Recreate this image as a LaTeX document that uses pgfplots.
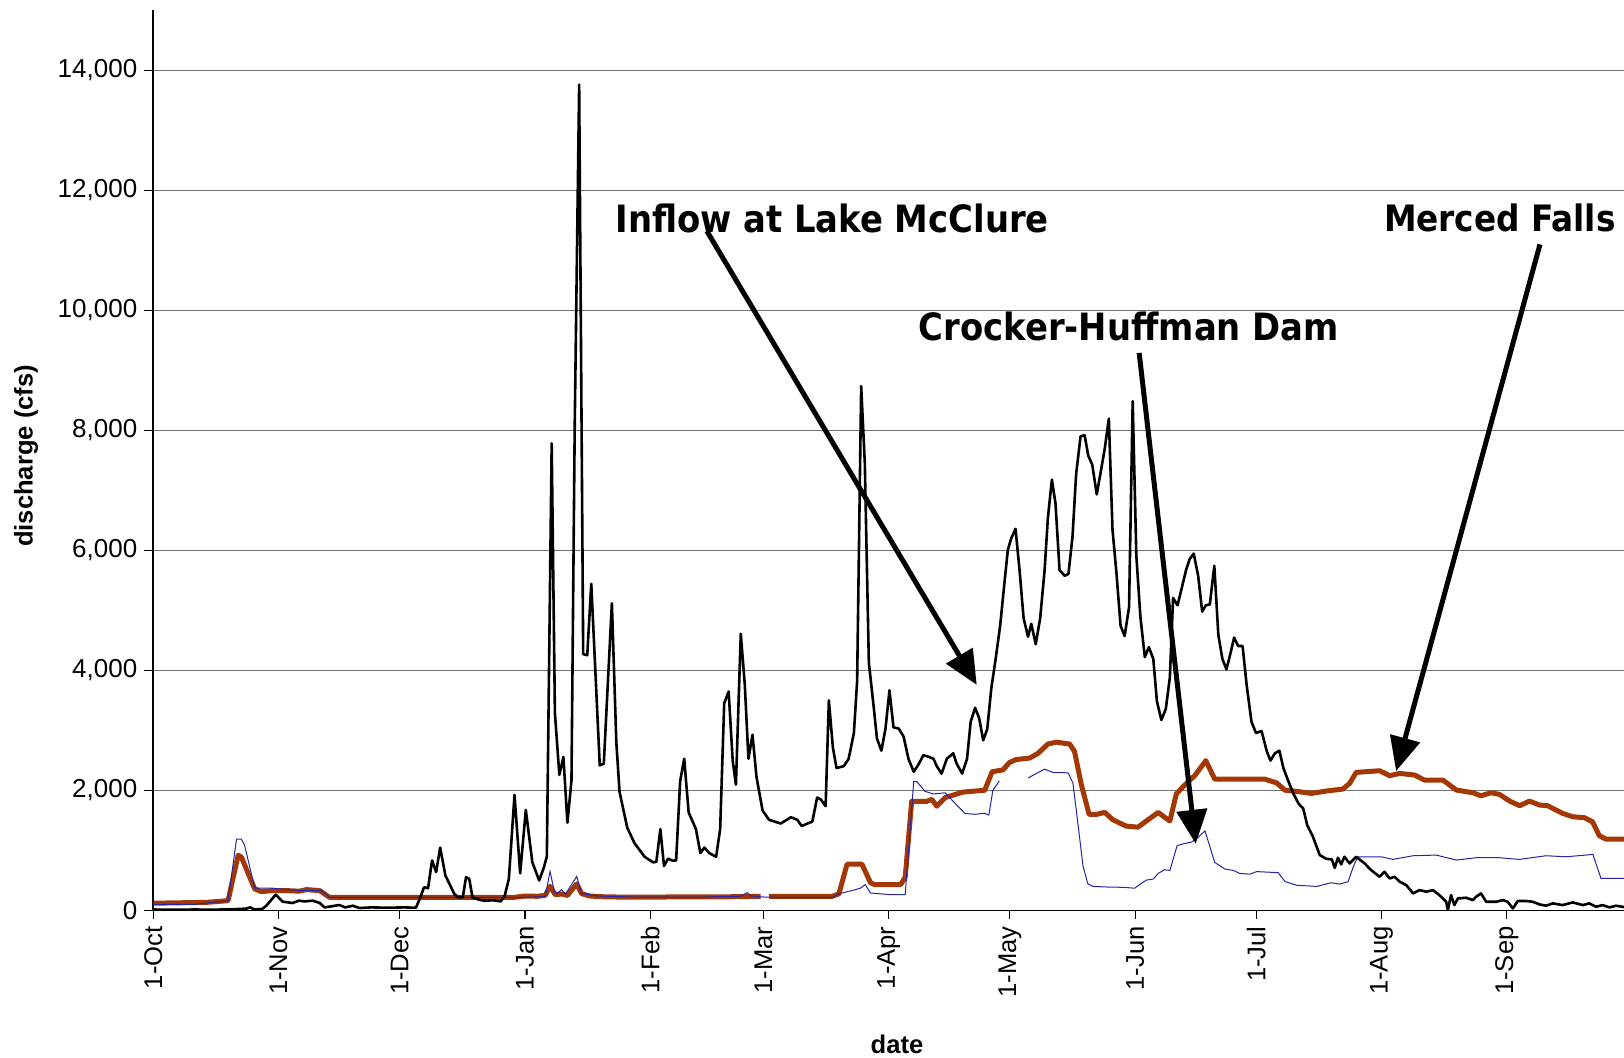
\documentclass[border=0pt]{standalone}
\usepackage{fontspec}
\setmainfont{Liberation Sans}
\newfontfamily\annfont{DejaVu Sans Condensed}
\usepackage{pgfplots}
\pgfplotsset{compat=1.18}
\usetikzlibrary{arrows.meta}
\definecolor{mfbrown}{RGB}{163,56,4}
\definecolor{chblue}{RGB}{36,36,168}
\begin{document}
\begin{tikzpicture}
\begin{axis}[
  scale only axis, width=735.35pt, height=450pt,
  xmin=0, xmax=364, ymin=0, ymax=15000,
  axis x line*=bottom, axis y line*=left,
  axis line style={black, line width=0.8pt},
  unbounded coords=jump,
  xtick={0,31,61,92,123,151,182,212,243,273,304,335},
  xticklabels={1-Oct,1-Nov,1-Dec,1-Jan,1-Feb,1-Mar,1-Apr,1-May,1-Jun,1-Jul,1-Aug,1-Sep},
  ytick={0,2000,4000,6000,8000,10000,12000,14000},
  scaled y ticks=false,
  yticklabel style={/pgf/number format/fixed, /pgf/number format/1000 sep={,}, /pgf/number format/assume math mode=true},
  tick align=outside,
  major tick length=4.5pt,
  tick style={black, line width=0.6pt},
  ymajorgrids, grid style={gray!90!black, line width=0.6pt},
  x tick label style={rotate=90, anchor=east, font=\fontsize{12.8}{14}\selectfont},
  y tick label style={font=\fontsize{13}{14}\selectfont},
  xlabel={\bfseries date},
  ylabel={\bfseries discharge (cfs)},
  xlabel style={at={(axis description cs:0.5057,-0.1484)}, anchor=center, font=\fontsize{12.8}{14}\selectfont},
  ylabel style={at={(axis description cs:-0.0866,0.505)}, anchor=center, font=\fontsize{12.8}{14}\selectfont},
]
% Merced Falls (brown)
\addplot[mfbrown, line width=2.5pt, line join=round] coordinates {
(0,120) (13.2,134) (18.5,162) (21,918) (21.8,890) (23,694) (25.1,358) (26.7,314) (29.6,330) (33,330) (36.2,320) (37.9,347) (41.2,330) (43.6,218) (60,218) (80,218) (89,215) (92,240) (95,235) (97,250) (98.2,403) (99.5,260) (101,274) (102.5,250) (104.8,442) (106,280) (108,240) (112,225) (120,220) (130,225) (140,225) (150.3,234) (151,nan) (152.4,234) (168,234) (169.7,277) (171.7,770) (175.4,770) (177.5,462) (178.5,431) (185,431) (186.1,555) (187.7,1818) (191.4,1818) (192.7,1849) (193.9,1738) (196,1880) (198,1923) (200.4,1972) (205.8,2003) (207.6,2311) (210.3,2342) (211.9,2465) (213.6,2515) (216.9,2539) (219,2619) (221.4,2773) (223.5,2804) (226.8,2773) (228,2650) (229.7,2095) (231.6,1602) (233.5,1602) (235.5,1633) (237.5,1510) (240.8,1405) (243.7,1387) (245.8,1491) (248.7,1633) (250.3,1553) (251.6,1491) (253.2,1941) (254.9,2065) (257.8,2249) (260.5,2496) (262.7,2188) (265.6,2188) (275.1,2188) (278,2126) (280.1,2003) (283,1984) (286.6,1950) (290.3,1989) (294.4,2022) (296.1,2117) (297.7,2300) (303.5,2328) (306,2245) (308.5,2283) (312.2,2256) (314.6,2172) (319.2,2172) (322.5,2006) (326.6,1961) (328.6,1911) (331.1,1961) (333.2,1933) (335.7,1822) (338.2,1745) (340.6,1822) (343.1,1756) (345.1,1745) (348.8,1617) (351.3,1561) (354.2,1545) (356.2,1478) (357.9,1245) (359.5,1189) (364,1189)
};
% Crocker-Huffman Dam (blue)
\addplot[chblue, line width=0.5pt] coordinates {
(0,100) (10,100) (18.5,162) (20.6,1187) (21.8,1187) (22.6,1086) (25.1,370) (29.6,370) (33,347) (37,330) (41.6,330) (43.6,218) (60,218) (80,218) (90,215) (97,230) (98.2,650) (99.3,300) (100,280) (101,347) (102,270) (104.8,566) (106,280) (110,240) (120,220) (135,220) (140,230) (145,230) (147,296) (148,240) (150.4,225) (152.4,220) (160,216) (168,216) (169.7,277) (173.4,339) (175,370) (176.2,431) (177.5,290) (182,265) (186.1,265) (188.2,2145) (189,2145) (191,1984) (193.1,1941) (196,1960) (198.4,1787) (200.9,1615) (203.5,1602) (205.7,1620) (206.8,1590) (207.8,2003) (209.4,2157) (212,nan) (216.5,2206) (218.5,2280) (220.6,2354) (222.7,2299) (226.4,2293) (227.6,2126) (228.9,1417) (230.1,740) (231.3,444) (232.6,400) (236.7,388) (240,385) (242.9,370) (244.1,431) (245.8,505) (247.5,524) (248.7,616) (250.3,678) (251.6,666) (253.4,1079) (254.9,1109) (257,1140) (258.6,1220) (260.3,1325) (262.7,801) (265.2,690) (267.3,666) (268.9,616) (271.4,604) (273.1,647) (278.4,629) (280.1,481) (283,419) (288,400) (291.5,461) (293.6,439) (295.7,478) (297,728) (298.1,894) (303.9,894) (306.8,850) (311.8,911) (317.5,922) (322.5,839) (327.4,878) (333.2,878) (338.1,850) (344.7,911) (349.7,894) (356.3,933) (358.3,533) (364,533)
};
% Inflow at Lake McClure (black)
\addplot[black, line width=1.3pt, line join=round] coordinates {
(0,15) (5,10) (10,15) (15,12) (20,20) (23,30) (24,50) (25,15) (27,25) (28,80) (30.3,263) (32,146) (34.5,123) (36,162) (37.5,150) (39.5,162) (41.2,123) (42.4,50) (44,67) (46,90) (47.5,50) (49.4,78) (51,40) (54,50) (58,45) (62,50) (65,45) (66,200) (67,386) (68,370) (69,834) (70,638) (71,1047) (72.3,582) (74.5,274) (75.5,220) (76.6,218) (77.4,554) (78.2,526) (79,218) (80.5,180) (82,160) (84,170) (86,150) (87,250) (88,526) (89.4,1926) (90.8,618) (92.2,1674) (93.8,806) (95.5,498) (96.7,722) (97.4,900) (98.6,7785) (99.4,3288) (100.5,2258) (101.5,2557) (102.5,1461) (103.5,2164) (104.3,8066) (105.4,13762) (106.4,4272) (107.4,4253) (108.4,5443) (110.5,2417) (111.5,2445) (113.5,5120) (114.6,2800) (115.4,1975) (117.3,1380) (119.1,1120) (121.6,894) (123.7,801) (124.5,810) (125.5,1356) (126.4,740) (127.4,863) (128.5,830) (129.4,832) (130.4,2157) (131.4,2527) (132.5,1633) (134.3,1356) (135.4,955) (136.4,1048) (137.6,955) (139.3,894) (140.3,1356) (141.3,3451) (142.4,3648) (143.4,2496) (144.2,2095) (145.4,4610) (146.4,3759) (147.3,2527) (148.3,2927) (149.3,2219) (150.8,1664) (152.4,1510) (155.3,1448) (157.8,1553) (159.4,1510) (160.5,1405) (161.9,1448) (163.1,1479) (164.3,1880) (165.2,1850) (166.4,1738) (167.2,3501) (168.2,2712) (169.1,2373) (170.9,2404) (172.1,2527) (173.4,2958) (174.2,3821) (175.2,8739) (176.1,7457) (177.1,4129) (178.3,3390) (179.1,2866) (180.2,2662) (181.2,3020) (182.2,3667) (183.2,3051) (184.5,3030) (185.7,2897) (186.9,2527) (188.2,2311) (189.4,2434) (190.6,2588) (191.9,2560) (193.1,2527) (193.9,2404) (195.1,2280) (196.4,2527) (198,2619) (198.8,2450) (200.2,2280) (201.4,2527) (202.3,3143) (203.4,3377) (204.4,3205) (205.4,2835) (206.4,3020) (207.4,3698) (208.5,4200) (209.6,4745) (210.7,5485) (211.5,6009) (212.3,6194) (213.4,6360) (214.4,5670) (215.4,4869) (216.5,4561) (217.3,4776) (218.4,4437) (219.5,4869) (220.6,5670) (221.4,6533) (222.4,7180) (223.3,6779) (224.3,5670) (225.6,5577) (226.5,5610) (227.5,6225) (228.4,7272) (229.5,7901) (230.5,7920) (231.4,7580) (232.4,7426) (233.5,6933) (234.4,7272) (235.5,7703) (236.5,8197) (237.4,6348) (238.4,5608) (239.4,4745) (240.4,4573) (241.5,5054) (242.4,8487) (243.3,5917) (244.3,4900) (245.4,4222) (246.4,4388) (247.5,4191) (248.4,3482) (249.5,3174) (250.6,3359) (251.6,3883) (252.4,5208) (253.5,5085) (254.5,5362) (255.6,5670) (256.5,5855) (257.5,5947) (258.6,5577) (259.6,4980) (260.5,5085) (261.5,5100) (262.6,5744) (263.6,4591) (264.6,4191) (265.6,4018) (266.6,4283) (267.5,4548) (268.5,4407) (269.6,4407) (270.6,3759) (271.8,3143) (272.9,2958) (274.3,2989) (275.6,2650) (276.5,2496) (277.6,2619) (278.7,2662) (279.7,2373) (280.9,2157) (282.2,1941) (283.5,1775) (284.6,1700) (285.6,1420) (287,1230) (288.7,922) (290.3,860) (291.7,850) (292.4,709) (293.2,878) (294,767) (294.8,894) (296.1,783) (297.7,894) (299.8,783) (301.4,672) (303.5,561) (304.7,644) (306,533) (307.2,561) (308.5,478) (310.1,422) (311.8,283) (313.4,339) (315.1,311) (316.7,339) (318.3,256) (320,144) (320.4,6) (321.2,256) (322,89) (322.9,200) (324.9,211) (326.6,172) (327.4,228) (328.6,283) (329.9,144) (332.4,144) (334,172) (335.2,144) (336.5,33) (337.7,156) (339.8,156) (341.4,144) (343.1,100) (344.7,78) (346.4,117) (348.8,89) (351.3,133) (353.8,89) (355.4,117) (357.1,61) (358.7,89) (360.4,50) (362,78) (364,56)
};
% annotations
\node[anchor=base west, inner sep=0pt, font=\annfont\bfseries] at (axis cs:114.3,11295) {\resizebox{216.7pt}{!}{Inflow at Lake McClure}};
\node[anchor=base west, inner sep=0pt, font=\annfont\bfseries] at (axis cs:189.4,9493) {\resizebox{209.9pt}{!}{Crocker-Huffman Dam}};
\node[anchor=base west, inner sep=0pt, font=\annfont\bfseries] at (axis cs:304.5,11307) {\resizebox{115.8pt}{!}{Merced Falls}};
\draw[black, line width=2.5pt, -{Triangle[length=17pt,width=15pt]}] (axis cs:137,11323) -- (axis cs:203.8,3759);
\draw[black, line width=2.5pt, -{Triangle[length=17pt,width=15pt]}] (axis cs:244,9292) -- (axis cs:258,1110);
\draw[black, line width=2.5pt, -{Triangle[length=17pt,width=15pt]}] (axis cs:343.2,11100) -- (axis cs:307.6,2322);
\end{axis}
\pgfresetboundingbox
\path (-76.65pt,-73.3pt) rectangle (735.35pt,455.2pt);
\end{tikzpicture}
\end{document}
